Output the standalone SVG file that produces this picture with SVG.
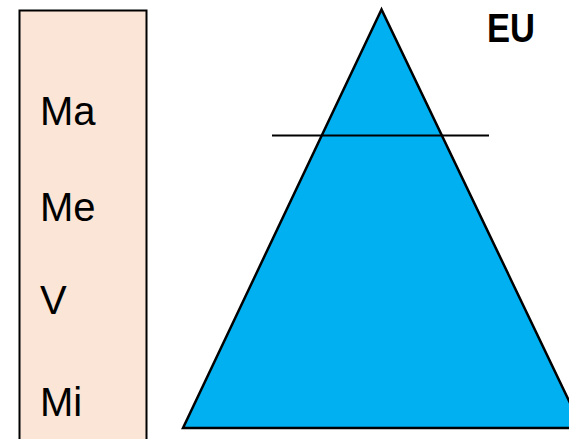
<svg xmlns="http://www.w3.org/2000/svg" width="569" height="439" viewBox="0 0 569 439">
<style>
.lbl{font-family:"Liberation Sans",Arial,sans-serif;font-size:40px;fill:#000}
.eu{font-family:"Liberation Sans",Arial,sans-serif;font-size:40px;font-weight:bold;fill:#000}
</style>
<rect width="569" height="439" fill="#fff"/>
<g id="scale">
<rect x="19.5" y="10.5" width="127" height="440" fill="#FBE5D6" stroke="#000" stroke-width="2"/>
<text class="lbl" x="40" y="125">Ma</text>
<text class="lbl" x="40" y="221">Me</text>
<text class="lbl" x="40" y="314">V</text>
<text class="lbl" x="40" y="416">Mi</text>
</g>
<g id="pyramid">
<polygon points="381.5,9.5 183,428 582,428" fill="#00B0F0" stroke="#000" stroke-width="2.5" stroke-linejoin="miter"/>
</g>
<g id="connectors">
<line x1="272" y1="135.5" x2="489" y2="135.5" stroke="#000" stroke-width="2"/>
</g>
<g id="label-eu">
<text class="eu" x="487" y="42" textLength="48" lengthAdjust="spacingAndGlyphs">EU</text>
</g>
</svg>
